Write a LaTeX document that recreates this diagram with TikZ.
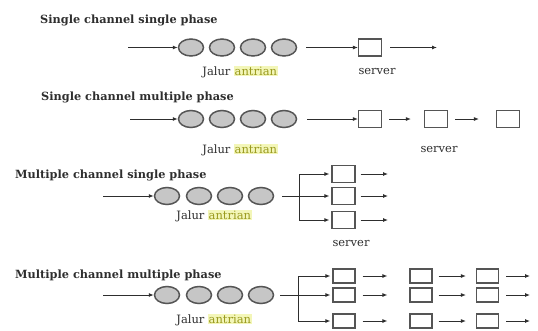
\documentclass[tikz,border=0pt]{standalone}
\usepackage{fontspec}
\setmainfont{DejaVu Serif}
\usetikzlibrary{arrows.meta,shapes.geometric}
\definecolor{hl}{HTML}{F3F6B8}
\definecolor{ant}{HTML}{9A9A1E}
\definecolor{ink}{HTML}{2E2E2E}
\definecolor{edge}{HTML}{555555}
\definecolor{qfill}{HTML}{C6C6C6}
\newcommand{\antr}{Jalur \setlength{\fboxsep}{0.6pt}\colorbox{hl}{\textcolor{ant}{antrian}}}
\begin{document}
\begin{tikzpicture}[x=1pt,y=-1pt,
  ttl/.style={anchor=west,inner sep=0pt,text=ink,font=\fontsize{11.3}{13}\selectfont\bfseries},
  lbl/.style={inner sep=0pt,text=ink,font=\fontsize{11.5}{13}\selectfont},
  que/.style={ellipse,draw=edge,fill=qfill,line width=1.5pt,minimum width=25pt,minimum height=17pt,inner sep=0pt},
  srv/.style={rectangle,draw=edge,fill=white,line width=1.2pt,minimum width=23pt,minimum height=17pt,inner sep=0pt},
  srvs/.style={srv,minimum width=22pt,minimum height=14pt},
  arr/.style={draw=ink,line width=0.9pt,-{Latex[length=5pt,width=4pt]}},
  ln/.style={draw=ink,line width=0.9pt}]
\useasboundingbox[fill=white] (0,0) rectangle (538,330);

% ---------- Section 1 ----------
\node[ttl] (t1) at (40,20) {Single channel single phase};
\coordinate (i1) at (128,47.5);
\node[que] (q11) at (191,47.5) {};
\node[que] (q12) at (222,47.5) {};
\node[que] (q13) at (253,47.5) {};
\node[que] (q14) at (284,47.5) {};
\node[srv] (s11) at (370,47.5) {};
\coordinate (o1) at (437,47.5);
\draw[arr] (i1) -- (q11.west);
\draw[arr] ([xshift=9pt]q14.east) -- (s11.west);
\draw[arr] ([xshift=8pt]s11.east) -- (o1);
\node[lbl] (j1) at (240,72) {\antr};
\node[lbl] (v1) at (377,72) {server};

% ---------- Section 2 ----------
\node[ttl] (t2) at (41,97) {Single channel multiple phase};
\coordinate (i2) at (130,119);
\node[que] (q21) at (191,119) {};
\node[que] (q22) at (222,119) {};
\node[que] (q23) at (253,119) {};
\node[que] (q24) at (284,119) {};
\node[srv] (s21) at (370,119) {};
\node[srv] (s22) at (436,119) {};
\node[srv] (s23) at (508,119) {};
\draw[arr] (i2) -- (q21.west);
\draw[arr] ([xshift=10pt]q24.east) -- (s21.west);
\draw[arr] ([xshift=7pt]s21.east) -- ([xshift=-13pt]s22.west);
\draw[arr] ([xshift=7pt]s22.east) -- ([xshift=-17pt]s23.west);
\node[lbl] (j2) at (240,150) {\antr};
\node[lbl] (v2) at (439,150) {server};

% ---------- Section 3 ----------
\node[ttl] (t3) at (15,175) {Multiple channel single phase};
\coordinate (i3) at (103,196);
\node[que] (q31) at (167,196) {};
\node[que] (q32) at (199,196) {};
\node[que] (q33) at (230,196) {};
\node[que] (q34) at (261,196) {};
\coordinate (k3) at (299,196);
\coordinate (k3t) at (299,174);
\coordinate (k3b) at (299,220);
\node[srv] (s31) at (343.5,174) {};
\node[srv] (s32) at (343.5,196) {};
\node[srv] (s33) at (343.5,220) {};
\coordinate (o31) at (388,174);
\coordinate (o32) at (388,196);
\coordinate (o33) at (388,220);
\draw[arr] (i3) -- (q31.west);
\draw[ln] ([xshift=8pt]q34.east) -- (k3);
\draw[ln] (k3t) -- (k3b);
\draw[arr] (k3t) -- ([xshift=-2pt]s31.west);
\draw[arr] (k3) -- ([xshift=-2pt]s32.west);
\draw[arr] (k3b) -- ([xshift=-2pt]s33.west);
\draw[arr] ([xshift=5pt]s31.east) -- (o31);
\draw[arr] ([xshift=5pt]s32.east) -- (o32);
\draw[arr] ([xshift=5pt]s33.east) -- (o33);
\node[lbl] (j3) at (214,216) {\antr};
\node[lbl] (v3) at (351,244) {server};

% ---------- Section 4 ----------
\node[ttl] (t4) at (15,275) {Multiple channel multiple phase};
\coordinate (i4) at (103,295);
\node[que] (q41) at (167,295) {};
\node[que] (q42) at (199,295) {};
\node[que] (q43) at (230,295) {};
\node[que] (q44) at (261,295) {};
\coordinate (k4) at (298,295);
\coordinate (k4t) at (298,276);
\coordinate (k4b) at (298,321);
\draw[arr] (i4) -- (q41.west);
\draw[ln] ([xshift=6pt]q44.east) -- (k4);
\draw[ln] (k4t) -- (k4b);
\foreach \r/\y/\k in {1/276/k4t,2/295/k4,3/321/k4b}{
  \node[srvs] (a\r) at (344,\y) {};
  \node[srvs] (b\r) at (421,\y) {};
  \node[srvs] (c\r) at (487.5,\y) {};
  \coordinate (e\r) at (530,\y);
  \draw[arr] (\k) -- ([xshift=-2pt]a\r.west);
  \draw[arr] ([xshift=7pt]a\r.east) -- ([xshift=-22pt]b\r.west);
  \draw[arr] ([xshift=6pt]b\r.east) -- ([xshift=-10pt]c\r.west);
  \draw[arr] ([xshift=7pt]c\r.east) -- (e\r);
}
\node[lbl] (j4) at (214,320) {\antr};
\end{tikzpicture}
\end{document}
